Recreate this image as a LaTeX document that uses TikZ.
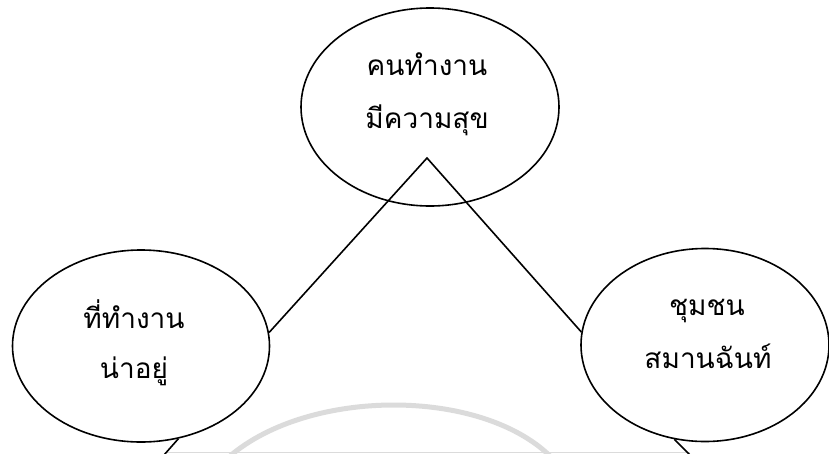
\documentclass[tikz,border=0pt]{standalone}
\usepackage{fontspec}
\newfontfamily\thaifont[Script=Thai]{Loma}
\usetikzlibrary{shapes.geometric}
\begin{document}
\begin{tikzpicture}[x=1pt,y=-1pt,
  bubble/.style={draw, ellipse, line width=1.6pt, inner sep=0pt},
  lbl/.style={font=\thaifont\fontsize{28}{28}\selectfont, inner sep=0pt, anchor=base},
  edge/.style={line width=1.6pt},
  wm/.style={draw=black!14}]
\useasboundingbox (0,0) rectangle (829,453);
% watermark
\coordinate (wa) at (230,456);
\coordinate (wb) at (550,456);
\draw[wm, line width=5pt] (wa) .. controls (310,388) and (480,388) .. (wb);
\coordinate (ga) at (165,452);
\coordinate (gb) at (690,452);
\draw[wm, line width=1pt] (ga) -- (gb);
% ellipses
\node[bubble, minimum width=258pt, minimum height=198pt] (top) at (430,107) {};
\node[bubble, minimum width=257pt, minimum height=192pt] (left) at (141,346) {};
\node[bubble, minimum width=248pt, minimum height=193pt] (right) at (705,345) {};
% connectors
\coordinate (apex) at (427,158);
\coordinate (bl) at (164,455);
\coordinate (br) at (690,455);
\draw[edge] (left.6) -- (apex) -- (right.174);
\draw[edge] (left.-68) -- (bl);
\draw[edge] (right.-108) -- (br);
% labels
\node[lbl] (t1) at (427,75) {คนทำงาน};
\node[lbl] (t2) at (427,128) {มีความสุข};
\node[lbl] (l1) at (134,328) {ที่ทำงาน};
\node[lbl] (l2) at (134,378) {น่าอยู่};
\node[lbl] (r1) at (707,315) {ชุมชน};
\node[lbl] (r2) at (708,368) {สมานฉันท์};
\end{tikzpicture}
\end{document}
